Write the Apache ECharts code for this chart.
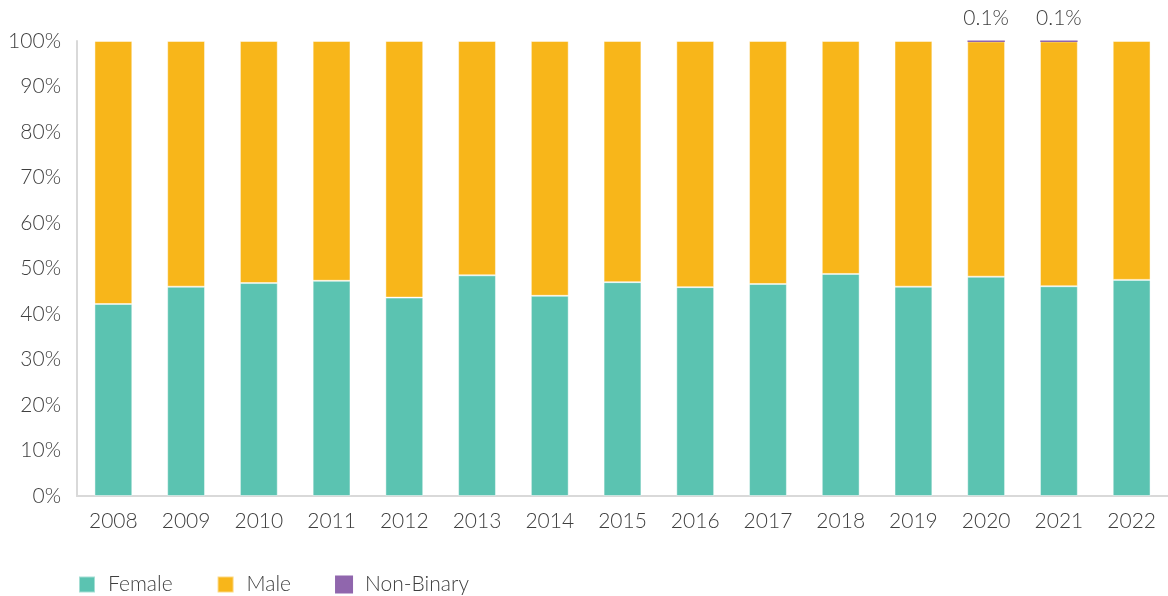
<!DOCTYPE html>
<html>
<head>
<meta charset="utf-8">
<script src="https://cdn.jsdelivr.net/npm/echarts@6/dist/echarts.min.js"></script>
<style>
  html, body { margin: 0; padding: 0; background: #fff; }
  #chart { width: 1168px; height: 596px; }
</style>
</head>
<body>
<div id="chart"></div>
<script>
// Share of people by gender, per year (percent)
const years = ['2008','2009','2010','2011','2012','2013','2014','2015','2016','2017','2018','2019','2020','2021','2022'];
const female = [42.2, 46.0, 46.8, 47.3, 43.6, 48.5, 44.0, 47.0, 45.9, 46.6, 48.8, 46.0, 48.2, 46.1, 47.5];
const nonBinary = [0, 0, 0, 0, 0, 0, 0, 0, 0, 0, 0, 0, 0.1, 0.1, 0];
const male = female.map((f, i) => +(100 - f - nonBinary[i]).toFixed(1));
const yTicks = [0, 10, 20, 30, 40, 50, 60, 70, 80, 90, 100];

const textColor = '#3f3f3f';
const font = 'Lato, "Noto Sans", sans-serif';
const weight = 300;

const chart = echarts.init(document.getElementById('chart'), null, { renderer: 'canvas' });

const barBase = {
  type: 'bar',
  stack: 'total',
  barWidth: '52%',
  itemStyle: { borderColor: 'rgba(255,255,255,0.45)', borderWidth: 1 }
};

chart.setOption({
  animation: false,
  textStyle: { fontFamily: font, color: textColor },
  grid: { left: 77, top: 41, width: 1095, bottom: 100, containLabel: false },
  legend: {
    left: 78,
    top: 574,
    padding: 0,
    itemWidth: 16,
    itemHeight: 16,
    itemGap: 44,
    icon: 'rect',
    textStyle: { fontFamily: font, fontWeight: weight, fontSize: 21, color: textColor, padding: [0, 0, 0, 8] },
    data: ['Female', 'Male', 'Non-Binary']
  },
  xAxis: {
    type: 'category',
    data: years,
    axisLine: { show: true, lineStyle: { color: '#d9d9d9', width: 2 } },
    axisTick: { show: false },
    axisLabel: { fontFamily: font, fontWeight: weight, fontSize: 21, color: textColor, margin: 15 }
  },
  yAxis: {
    type: 'value',
    min: yTicks[0],
    max: yTicks[yTicks.length - 1],
    interval: 10,
    splitLine: { show: false },
    axisLine: { show: true, lineStyle: { color: '#d9d9d9', width: 2 } },
    axisTick: { show: false },
    axisLabel: { fontFamily: font, fontWeight: weight, fontSize: 21, color: textColor, margin: 16, formatter: '{value}%' }
  },
  series: [
    Object.assign({}, barBase, {
      name: 'Female',
      data: female,
      itemStyle: Object.assign({}, barBase.itemStyle, { color: '#5bc3b1' })
    }),
    Object.assign({}, barBase, {
      name: 'Male',
      data: male,
      itemStyle: Object.assign({}, barBase.itemStyle, { color: '#f8b61a' })
    }),
    Object.assign({}, barBase, {
      name: 'Non-Binary',
      data: nonBinary.map(v => v === 0 ? null : v),
      itemStyle: { color: '#9066ad', borderColor: '#9066ad', borderWidth: 1.5 },
      label: {
        show: true,
        position: 'top',
        distance: 12,
        fontFamily: font,
        fontWeight: weight,
        fontSize: 21,
        color: textColor,
        formatter: p => p.value + '%'
      }
    })
  ]
});
</script>
</body>
</html>
